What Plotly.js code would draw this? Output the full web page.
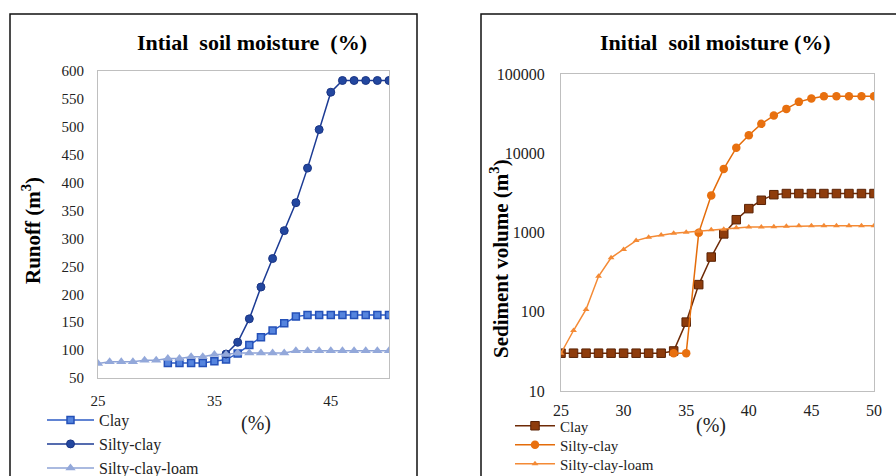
<!DOCTYPE html>
<html>
<head>
<meta charset="utf-8">
<script src="https://cdn.plot.ly/plotly-3.0.1.min.js"></script>
<style>html,body{margin:0;padding:0;background:#fff;overflow:hidden;}#chart{width:896px;height:500px;}</style>
</head>
<body>
<div id="chart"></div>
<script>
// ---- Left chart: Runoff (m3) vs initial soil moisture (%) ----
const runoffClayX = [31,32,33,34,35,36,37,38,39,40,41,42,43,44,45,46,47,48,49,50];
const runoffClay  = [77,77,77,77,80,83,94,109,123,135,148,160,163,163,163,163,163,163,163,163];
const runoffSiltyClayX = [36,37,38,39,40,41,42,43,44,45,46,47,48,49,50];
const runoffSiltyClay  = [93,114,156,213,264,314,364,426,495,562,583,583,583,583,583];
const runoffLoamX = [25,26,27,28,29,30,31,32,33,34,35,36,37,38,39,40,41,42,43,44,45,46,47,48,49,50];
const runoffLoam  = [76,79,79,79,82,82,85,85,88,88,92,92,95,95,95,95,95,99,99,99,99,99,99,99,99,99];
const runoffXTicks = [25,35,45];

// ---- Right chart: Sediment volume (m3), log scale ----
const sedClayX = [25,26,27,28,29,30,31,32,33,34,35,36,37,38,39,40,41,42,43,44,45,46,47,48,49,50];
const sedClay  = [30,30,30,30,30,30,30,30,30,32,74,220,490,960,1450,2000,2550,3000,3100,3100,3100,3100,3100,3100,3100,3100];
const sedSiltyClayX = [34,35,36,37,38,39,40,41,42,43,44,45,46,47,48,49,50];
const sedSiltyClay  = [30,30,990,2940,6350,11700,16900,23500,29900,36300,44500,49000,52500,52500,52500,52500,52500];
const sedLoamX = [25,26,27,28,29,30,31,32,33,34,35,36,37,38,39,40,41,42,43,44,45,46,47,48,49,50];
const sedLoam  = [30,58,107,280,480,610,790,870,930,980,1010,1040,1080,1100,1150,1170,1170,1180,1200,1220,1220,1220,1220,1220,1220,1220];
const sedXTicks = [25,30,35,40,45,50];
const sedYTicks = [10,100,1000,10000,100000];
const sedYTickText = ['10','100','1000','10000','100000'];

const seriesNames = ['Clay','Silty-clay','Silty-clay-loam'];

// figure is a bit taller than the 476px window so the last legend row is cut like the original
const W = 896, H = 500;
const px = v => v / W;
const py = v => 1 - v / H;
const serif = 'Liberation Serif, Times New Roman, serif';

const traces = [
  {x: runoffClayX, y: runoffClay, name: seriesNames[0], mode: 'lines+markers', xaxis: 'x', yaxis: 'y', legend: 'legend',
   line: {color: '#2C5BC4', width: 1.5}, marker: {symbol: 'square', size: 7, color: '#5584DE', line: {color: '#2450B8', width: 1.5}}},
  {x: runoffSiltyClayX, y: runoffSiltyClay, name: seriesNames[1], mode: 'lines+markers', xaxis: 'x', yaxis: 'y', legend: 'legend2',
   line: {color: '#1C3B94', width: 1.5}, marker: {symbol: 'circle', size: 8, color: '#23479F', line: {color: '#1A3585', width: 1}}},
  {x: runoffLoamX, y: runoffLoam, name: seriesNames[2], mode: 'lines+markers', xaxis: 'x', yaxis: 'y', legend: 'legend3',
   line: {color: '#8EA3D6', width: 1.5}, marker: {symbol: 'triangle-up', size: 9, color: '#93A8DA', line: {width: 0}}},
  {x: sedClayX, y: sedClay, name: seriesNames[0], mode: 'lines+markers', xaxis: 'x2', yaxis: 'y2', legend: 'legend4',
   line: {color: '#6E2A06', width: 1.5}, marker: {symbol: 'square', size: 8.5, color: '#8E3C0C', line: {color: '#5A2205', width: 1}}},
  {x: sedSiltyClayX, y: sedSiltyClay, name: seriesNames[1], mode: 'lines+markers', xaxis: 'x2', yaxis: 'y2', legend: 'legend5',
   line: {color: '#E46C0A', width: 1.5}, marker: {symbol: 'circle', size: 8.5, color: '#E8700F', line: {width: 0}}},
  {x: sedLoamX, y: sedLoam, name: seriesNames[2], mode: 'lines+markers', xaxis: 'x2', yaxis: 'y2', legend: 'legend6',
   line: {color: '#F48A35', width: 1.5}, marker: {symbol: 'triangle-up', size: 6, color: '#F48A35', line: {width: 0}}}
];

const axisCommon = {
  showgrid: false, zeroline: false, showline: true, mirror: true,
  linecolor: '#BFBFBF', linewidth: 1,
  ticks: 'outside', tickcolor: 'rgba(0,0,0,0)',
  tickfont: {family: serif, size: 15, color: '#222'}
};

function legendAt(xPix, yPix, size, itemwidth) {
  return {x: px(xPix), y: py(yPix), xanchor: 'left', yanchor: 'middle',
    bgcolor: 'rgba(0,0,0,0)', borderwidth: 0, font: {family: serif, size: size, color: '#222'},
    itemwidth: itemwidth, tracegroupgap: 0};
}

const layout = {
  width: W, height: H,
  margin: {l: 0, r: 0, t: 0, b: 0},
  paper_bgcolor: '#fff', plot_bgcolor: '#fff',
  showlegend: true,
  xaxis: Object.assign({}, axisCommon, {domain: [px(98), px(389)], range: [25, 50], tickvals: runoffXTicks, ticklen: 9, anchor: 'y'}),
  yaxis: Object.assign({}, axisCommon, {domain: [py(378), py(71)], range: [50, 600], dtick: 50, tick0: 50, ticklen: 10, anchor: 'x'}),
  xaxis2: Object.assign({}, axisCommon, {domain: [px(561), px(874)], range: [25, 50], tickvals: sedXTicks, ticklen: 5, anchor: 'y2',
    tickfont: {family: serif, size: 16, color: '#222'}}),
  yaxis2: Object.assign({}, axisCommon, {domain: [py(391), py(74)], type: 'log', range: [1, 5], tickvals: sedYTicks, ticktext: sedYTickText, ticklen: 12, anchor: 'x2',
    tickfont: {family: serif, size: 16, color: '#222'}}),
  legend:  legendAt(42, 420, 16, 47),
  legend2: legendAt(42, 444, 16, 47),
  legend3: legendAt(42, 468, 16, 47),
  legend4: legendAt(510, 426, 15, 40),
  legend5: legendAt(510, 445, 15, 40),
  legend6: legendAt(510, 464, 15, 40),
  shapes: [
    {type: 'path', xref: 'paper', yref: 'paper', path: `M ${px(10)} 0 L ${px(10)} ${py(14)} L ${px(417)} ${py(14)} L ${px(417)} 0`,
     line: {color: '#111', width: 1.5}},
    {type: 'path', xref: 'paper', yref: 'paper', path: `M ${px(481)} 0 L ${px(481)} ${py(14)} L 1 ${py(14)}`,
     line: {color: '#111', width: 1.5}}
  ],
  annotations: [
    {text: 'Intial\u00A0 soil moisture\u00A0 (%)', xref: 'paper', yref: 'paper', x: px(252), y: py(43), xanchor: 'center', yanchor: 'middle',
     showarrow: false, font: {family: serif, size: 22, color: '#000', weight: 'bold'}},
    {text: 'Initial\u00A0 soil moisture (%)', xref: 'paper', yref: 'paper', x: px(715), y: py(43), xanchor: 'center', yanchor: 'middle',
     showarrow: false, font: {family: serif, size: 22, color: '#000', weight: 'bold'}},
    {text: 'Runoff (m<sup>3</sup>)', xref: 'paper', yref: 'paper', x: px(32), y: py(231), xanchor: 'center', yanchor: 'middle', textangle: -90,
     showarrow: false, font: {family: serif, size: 21, color: '#000', weight: 'bold'}},
    {text: 'Sediment volume (m<sup>3</sup>)', xref: 'paper', yref: 'paper', x: px(499), y: py(259), xanchor: 'center', yanchor: 'middle', textangle: -90,
     showarrow: false, font: {family: serif, size: 21, color: '#000', weight: 'bold'}},
    {text: '(%)', xref: 'paper', yref: 'paper', x: px(256), y: py(423), xanchor: 'center', yanchor: 'middle',
     showarrow: false, font: {family: serif, size: 20, color: '#222'}},
    {text: '(%)', xref: 'paper', yref: 'paper', x: px(711), y: py(425), xanchor: 'center', yanchor: 'middle',
     showarrow: false, font: {family: serif, size: 20, color: '#222'}}
  ]
};

Plotly.newPlot('chart', traces, layout, {displayModeBar: false, staticPlot: true});
</script>
</body>
</html>
